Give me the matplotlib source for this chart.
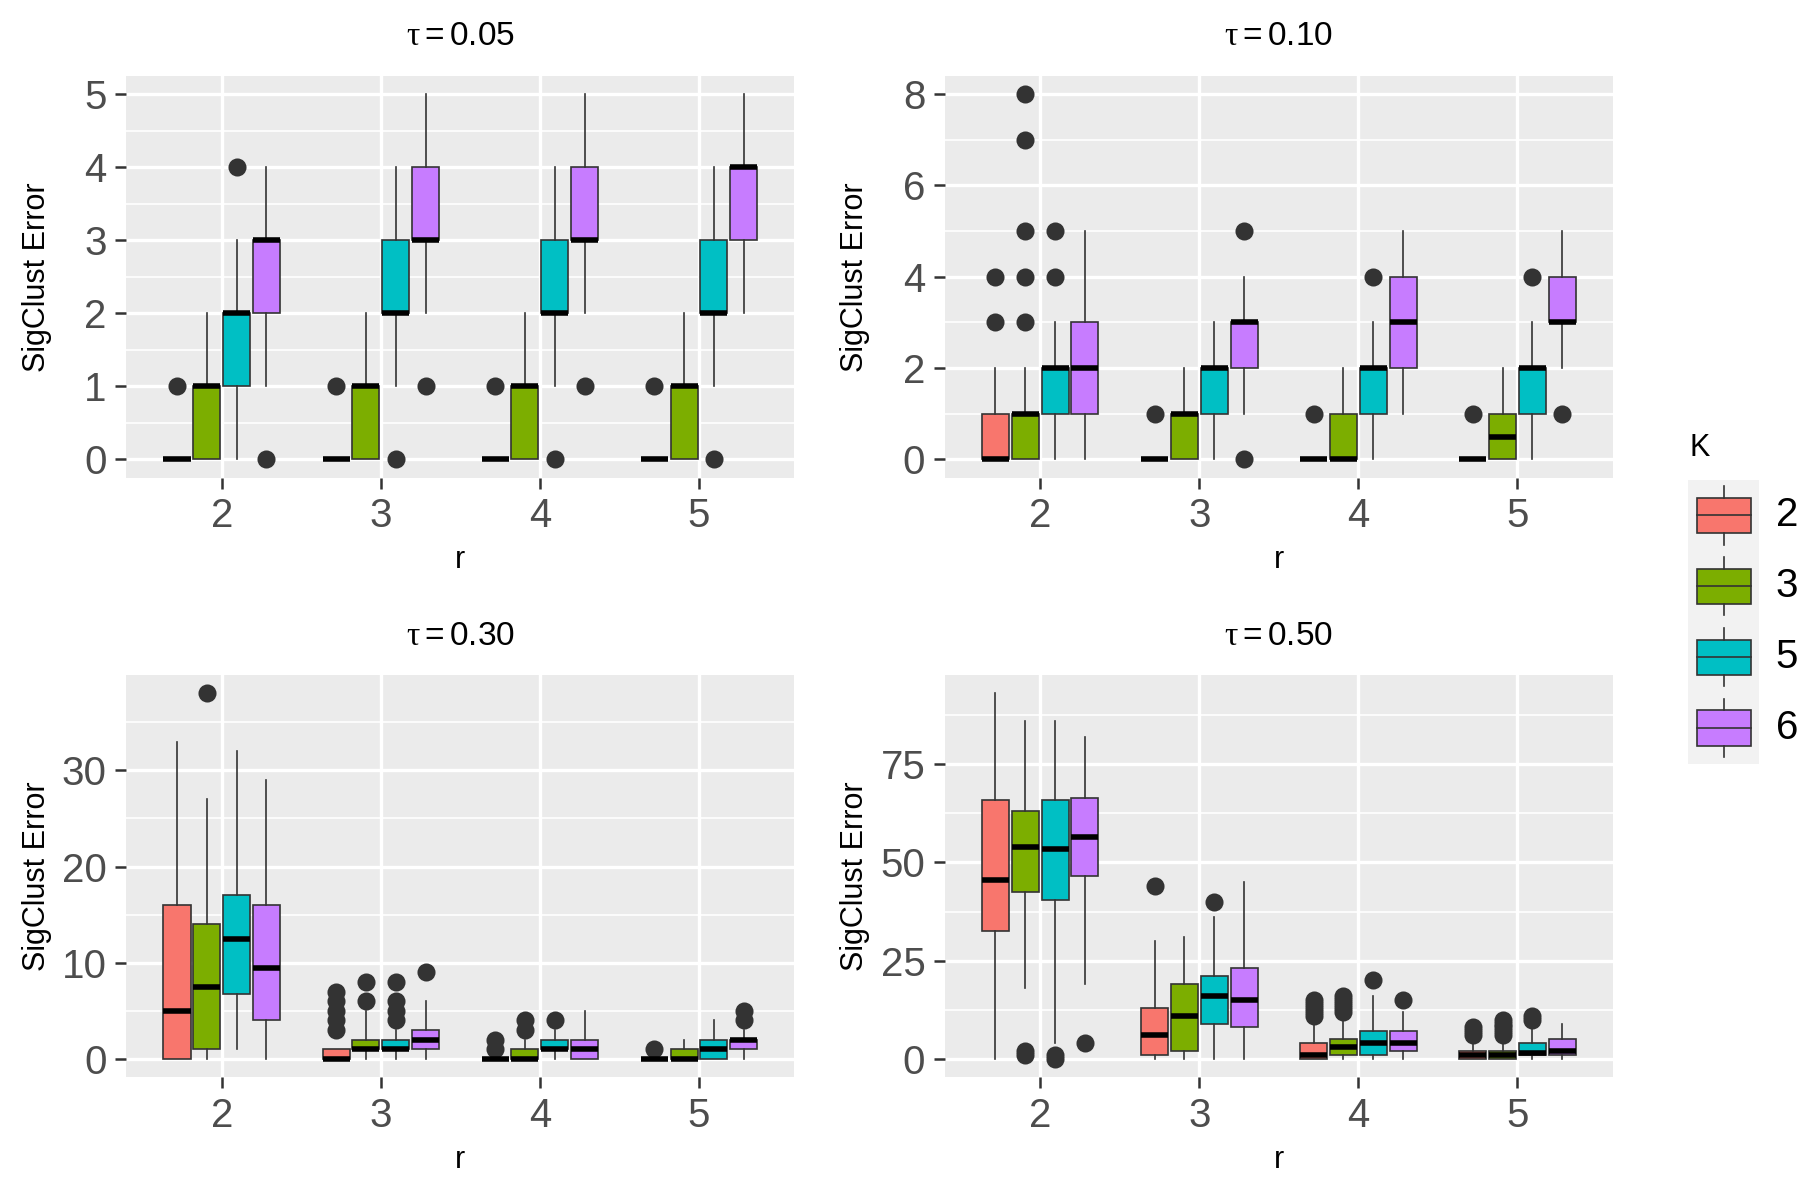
import matplotlib
matplotlib.use("Agg")
import matplotlib.pyplot as plt
from matplotlib.ticker import MultipleLocator
from matplotlib.patches import Rectangle
from matplotlib.lines import Line2D

# ---- data ----
taus = [0.05, 0.10, 0.30, 0.50]
r_values = [2, 3, 4, 5]
K_values = [2, 3, 5, 6]
K_colors = ["#F8766D", "#7CAE00", "#00BFC4", "#C77CFF"]

# rows = r (2,3,4,5), columns = K (2,3,5,6)
q1 = {
    0.05: [[0, 0, 1, 2], [0, 0, 2, 3], [0, 0, 2, 3], [0, 0, 2, 3]],
    0.10: [[0, 0, 1, 1], [0, 0, 1, 2], [0, 0, 1, 2], [0, 0, 1, 3]],
    0.30: [[0, 1, 6.75, 4], [0, 1, 1, 1], [0, 0, 1, 0], [0, 0, 0, 1]],
    0.50: [[32.5, 42.5, 40.5, 46.5], [1, 2, 9, 8], [0, 1, 1, 2], [0, 0, 1, 1]],
}
med = {
    0.05: [[0, 1, 2, 3], [0, 1, 2, 3], [0, 1, 2, 3], [0, 1, 2, 4]],
    0.10: [[0, 1, 2, 2], [0, 1, 2, 3], [0, 0, 2, 3], [0, 0.5, 2, 3]],
    0.30: [[5, 7.5, 12.5, 9.5], [0, 1, 1, 2], [0, 0, 1, 1], [0, 0, 1, 2]],
    0.50: [[45.5, 54, 53.5, 56.5], [6, 11, 16, 15], [1, 3, 4, 4], [1, 1, 1.5, 2]],
}
q3 = {
    0.05: [[0, 1, 2, 3], [0, 1, 3, 4], [0, 1, 3, 4], [0, 1, 3, 4]],
    0.10: [[1, 1, 2, 3], [0, 1, 2, 3], [0, 1, 2, 4], [0, 1, 2, 4]],
    0.30: [[16, 14, 17, 16], [1, 2, 2, 3], [0, 1, 2, 2], [0, 1, 2, 2]],
    0.50: [[66, 63, 66, 66.5], [13, 19, 21, 23], [4, 5, 7, 7], [2, 2, 4, 5]],
}
whis_lo = {
    0.05: [[0, 0, 0, 1], [0, 0, 1, 2], [0, 0, 1, 2], [0, 0, 1, 2]],
    0.10: [[0, 0, 0, 0], [0, 0, 0, 1], [0, 0, 0, 1], [0, 0, 0, 2]],
    0.30: [[0, 0, 1, 0], [0, 0, 0, 0], [0, 0, 0, 0], [0, 0, 0, 0]],
    0.50: [[0, 18, 4, 19], [0, 0, 0, 0], [0, 0, 0, 0], [0, 0, 0, 0]],
}
whis_hi = {
    0.05: [[0, 2, 3, 4], [0, 2, 4, 5], [0, 2, 4, 5], [0, 2, 4, 5]],
    0.10: [[2, 2, 3, 5], [0, 2, 3, 4], [0, 2, 3, 5], [0, 2, 3, 5]],
    0.30: [[33, 27, 32, 29], [1, 5, 3, 6], [0, 2, 3, 5], [0, 2, 4, 3]],
    0.50: [[93, 86, 86, 82], [30, 31, 36, 45], [9, 10, 16, 12], [4, 4, 8, 9]],
}
outliers = {
    0.05: [[[1], [], [4], [0]], [[1], [], [0], [1]], [[1], [], [0], [1]], [[1], [], [0], []]],
    0.10: [[[3, 4], [3, 4, 5, 7, 8], [4, 5], []], [[1], [], [], [0, 5]],
           [[1], [], [4], []], [[1], [], [4], [1]]],
    0.30: [[[], [38], [], []], [[3, 4, 5, 6, 7], [6, 8], [4, 5, 6, 8], [9]],
           [[1, 2], [3, 4], [4], []], [[1], [], [], [4, 5]]],
    0.50: [[[], [1, 2], [0, 1], [4]], [[44], [], [40], []],
           [[11, 12, 13, 14, 15], [12, 13, 14, 15, 16], [20], [15]],
           [[6, 7, 8], [6, 7, 8, 9, 10], [10, 11], []]],
}
y_step = {0.05: 1, 0.10: 2, 0.30: 10, 0.50: 25}

# ---- style ----
sans = ["Liberation Sans", "DejaVu Sans"]
dark = "#333333"
offsets = [-0.28125, -0.09375, 0.09375, 0.28125]

# plotmath-like facet titles: upright serif tau, sans digits
plt.rcParams["mathtext.fontset"] = "custom"
plt.rcParams["mathtext.rm"] = "Liberation Sans"
plt.rcParams["mathtext.it"] = "Liberation Serif"

fig = plt.figure(figsize=(9, 6), dpi=200)

# panel rectangles in figure fractions
W, H = 1568.0, 1045.0
lefts = [110 / W, 823 / W]
bottoms = [1 - 416 / H, 1 - 938 / H]
pw, ph = 582 / W, 350 / H

for i, tau in enumerate(taus):
    row, col = divmod(i, 2)
    ax = fig.add_axes([lefts[col], bottoms[row], pw, ph])
    ax.set_facecolor("#EBEBEB")
    for s in ax.spines.values():
        s.set_visible(False)

    stats, pos, cols = [], [], []
    for ri in range(len(r_values)):
        for ki in range(len(K_values)):
            stats.append(dict(q1=q1[tau][ri][ki], med=med[tau][ri][ki],
                              q3=q3[tau][ri][ki], whislo=whis_lo[tau][ri][ki],
                              whishi=whis_hi[tau][ri][ki],
                              fliers=outliers[tau][ri][ki]))
            pos.append(ri + 1 + offsets[ki])
            cols.append(K_colors[ki])

    bp = ax.bxp(stats, positions=pos, widths=0.17, patch_artist=True,
                showcaps=False, manage_ticks=False,
                boxprops=dict(edgecolor=dark, linewidth=0.6),
                whiskerprops=dict(color=dark, linewidth=0.6),
                medianprops=dict(color="black", linewidth=2.0, solid_capstyle="butt"),
                flierprops=dict(marker="o", markerfacecolor=dark,
                                markeredgecolor=dark, markersize=5.5, linestyle="none"))
    for box, c in zip(bp["boxes"], cols):
        box.set_facecolor(c)

    allv = []
    for st in stats:
        allv += [st["whislo"], st["whishi"]] + list(st["fliers"])
    lo, hi = min(allv), max(allv)
    span = hi - lo
    ax.set_ylim(lo - 0.05 * span, hi + 0.05 * span)
    ax.set_xlim(0.4, 4.6)

    ax.set_xticks(range(1, len(r_values) + 1))
    ax.set_xticklabels([str(r) for r in r_values])
    ax.yaxis.set_major_locator(MultipleLocator(y_step[tau]))
    ax.yaxis.set_minor_locator(MultipleLocator(y_step[tau] / 2))
    ax.set_axisbelow(True)
    ax.grid(which="major", color="white", linewidth=1.2)
    ax.grid(which="minor", axis="y", color="white", linewidth=0.6)
    ax.tick_params(which="major", length=4, width=0.9, color=dark,
                   labelsize=14.5, labelcolor="#4D4D4D", pad=3)
    ax.tick_params(which="minor", length=0)
    for lab in ax.get_xticklabels() + ax.get_yticklabels():
        lab.set_family(sans)

    ax.set_xlabel("r", family=sans, fontsize=11)
    ax.xaxis.set_label_coords(0.5, -(488 - 416) / 350)
    ax.xaxis.label.set_va("center")
    ax.set_ylabel("SigClust Error", family=sans, fontsize=11)
    ax.yaxis.set_label_coords(-(110 - 32) / 582, 0.5)
    ax.yaxis.label.set_va("center")

    ax.text(0.5, 1 + 35 / 350, r"$\tau = %.2f$" % tau, transform=ax.transAxes,
            ha="center", va="center", fontsize=12, color="black")

# ---- legend, drawn by hand like ggplot's key ----
lx0, lx1 = 1470 / W, 1532 / W
ly0, ly1 = 1 - 665 / H, 1 - 418 / H
lax = fig.add_axes([lx0, ly0, lx1 - lx0, ly1 - ly0])
lax.set_xlim(0, 1)
lax.set_ylim(0, len(K_values))
lax.set_facecolor("#F2F2F2")
lax.set_xticks([])
lax.set_yticks([])
for s in lax.spines.values():
    s.set_visible(False)
for ki, (k, c) in enumerate(zip(K_values, K_colors)):
    top = len(K_values) - ki
    lax.add_line(Line2D([0.51, 0.51], [top - 0.09, top - 0.25], color=dark, lw=0.6))
    lax.add_line(Line2D([0.51, 0.51], [top - 0.75, top - 0.91], color=dark, lw=0.6))
    lax.add_patch(Rectangle((0.13, top - 0.75), 0.76, 0.5, facecolor=c,
                            edgecolor=dark, lw=0.6))
    lax.add_line(Line2D([0.13, 0.89], [top - 0.5, top - 0.5], color=dark, lw=0.6))
    lax.text(1.24, top - 0.5, str(k), ha="left", va="center", fontsize=14.5,
             family=sans, color="black", clip_on=False)
lax.text(0.03, len(K_values) + 0.45, "K", ha="left", va="center", fontsize=11,
         family=sans, color="black", clip_on=False)

fig.savefig("out.png", dpi=200, facecolor="white")
